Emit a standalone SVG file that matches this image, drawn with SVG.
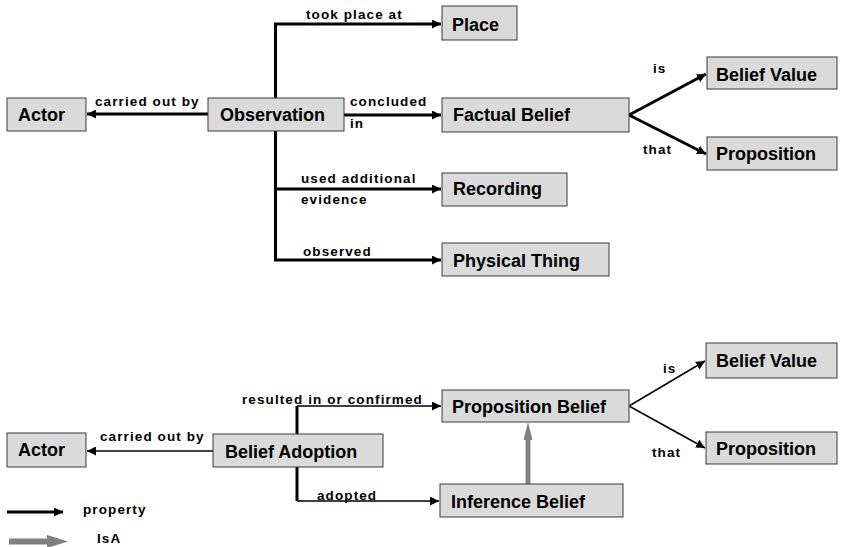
<svg xmlns="http://www.w3.org/2000/svg" width="842" height="547" viewBox="0 0 842 547">
  <style>
    .box { fill: #dadada; stroke: #3a3a3a; stroke-width: 1; }
    .node { font-family: "Liberation Sans", Arial, sans-serif; font-weight: bold; font-size: 18px; fill: #000; }
    .lbl { font-family: "Liberation Sans", Arial, sans-serif; font-weight: bold; font-size: 13.5px; letter-spacing: 1.1px; fill: #000; }
    .thick { fill: none; stroke: #000; stroke-width: 3; }
    .thin { fill: none; stroke: #000; stroke-width: 1.5; }
    .isa { fill: #808080; }
  </style>
  <defs>
    <marker id="arrow" markerUnits="userSpaceOnUse" markerWidth="10" markerHeight="9" refX="9" refY="4.5" orient="auto">
      <path d="M0,0 L9,4.5 L0,9 z" fill="#000"/>
    </marker>
  </defs>

  <!-- connectors -->
  <g id="connectors">
    <!-- upper model: Observation -->
    <path class="thick" d="M208,114 H87" marker-end="url(#arrow)"/>
    <path class="thick" d="M275.5,98 V24 H441" marker-end="url(#arrow)"/>
    <path class="thick" d="M344,115 H441" marker-end="url(#arrow)"/>
    <path class="thick" d="M275.5,131 V260 H441" marker-end="url(#arrow)"/>
    <path class="thick" d="M275.5,189 H441" marker-end="url(#arrow)"/>
    <path class="thick" d="M629,115 L706,74" marker-end="url(#arrow)"/>
    <path class="thick" d="M629,115 L706,154" marker-end="url(#arrow)"/>

    <!-- lower model: Belief Adoption -->
    <path class="thin" d="M213,451 H87" marker-end="url(#arrow)"/>
    <path class="thick" d="M297,434 V406"/>
    <path class="thin" d="M297,406 H441" marker-end="url(#arrow)"/>
    <path class="thick" d="M297,467 V501"/>
    <path class="thin" d="M297,501 H439" marker-end="url(#arrow)"/>
    <path class="thin" d="M629,406 L705,361" marker-end="url(#arrow)"/>
    <path class="thin" d="M629,406 L705,448" marker-end="url(#arrow)"/>
    <!-- IsA: Inference Belief to Proposition Belief -->
    <polygon class="isa" points="525.5,484 530.5,484 530.5,440 532.5,440 528,422 523.5,440 525.5,440"/>

    <!-- legend -->
    <path class="thick" d="M7,512 H63" marker-end="url(#arrow)"/>
    <polygon class="isa" points="9,538.5 47,538.5 47,535 68,541.5 47,548 47,544.5 9,544.5"/>
  </g>

  <!-- connector labels -->
  <g id="labels">
    <text class="lbl" x="306" y="19">took place at</text>
    <text class="lbl" x="95" y="106">carried out by</text>
    <text class="lbl" x="350" y="106">concluded</text>
    <text class="lbl" x="350" y="128">in</text>
    <text class="lbl" x="653" y="73">is</text>
    <text class="lbl" x="643" y="154">that</text>
    <text class="lbl" x="301" y="183">used additional</text>
    <text class="lbl" x="301" y="204">evidence</text>
    <text class="lbl" x="303" y="256">observed</text>

    <text class="lbl" x="242" y="404">resulted in or confirmed</text>
    <text class="lbl" x="100" y="441">carried out by</text>
    <text class="lbl" x="317" y="500">adopted</text>
    <text class="lbl" x="663" y="373">is</text>
    <text class="lbl" x="652" y="457">that</text>

    <text class="lbl" x="83" y="514">property</text>
    <text class="lbl" x="97" y="543">IsA</text>
  </g>

  <!-- upper model nodes -->
  <g id="actor-top">
    <rect class="box" x="7" y="98" width="79" height="33"/>
    <text class="node" x="18" y="121">Actor</text>
  </g>
  <g id="observation">
    <rect class="box" x="208" y="98" width="136" height="33"/>
    <text class="node" x="220" y="121">Observation</text>
  </g>
  <g id="place">
    <rect class="box" x="442" y="6" width="75" height="34"/>
    <text class="node" x="452" y="31">Place</text>
  </g>
  <g id="factual-belief">
    <rect class="box" x="442" y="98" width="187" height="34"/>
    <text class="node" x="453" y="121">Factual Belief</text>
  </g>
  <g id="belief-value-top">
    <rect class="box" x="707" y="57" width="130" height="32"/>
    <text class="node" x="716" y="81">Belief Value</text>
  </g>
  <g id="proposition-top">
    <rect class="box" x="707" y="137" width="130" height="33"/>
    <text class="node" x="716" y="160">Proposition</text>
  </g>
  <g id="recording">
    <rect class="box" x="442" y="173" width="125" height="33"/>
    <text class="node" x="453" y="195">Recording</text>
  </g>
  <g id="physical-thing">
    <rect class="box" x="442" y="243" width="167" height="33"/>
    <text class="node" x="453" y="267">Physical Thing</text>
  </g>

  <!-- lower model nodes -->
  <g id="actor-bottom">
    <rect class="box" x="7" y="433" width="79" height="34"/>
    <text class="node" x="18" y="456">Actor</text>
  </g>
  <g id="belief-adoption">
    <rect class="box" x="213" y="434" width="170" height="33"/>
    <text class="node" x="225" y="458">Belief Adoption</text>
  </g>
  <g id="proposition-belief">
    <rect class="box" x="442" y="390" width="187" height="32"/>
    <text class="node" x="452" y="413">Proposition Belief</text>
  </g>
  <g id="inference-belief">
    <rect class="box" x="440" y="484" width="183" height="33"/>
    <text class="node" x="451" y="508">Inference Belief</text>
  </g>
  <g id="belief-value-bottom">
    <rect class="box" x="706" y="343" width="131" height="35"/>
    <text class="node" x="716" y="367">Belief Value</text>
  </g>
  <g id="proposition-bottom">
    <rect class="box" x="706" y="432" width="131" height="32"/>
    <text class="node" x="716" y="455">Proposition</text>
  </g>
</svg>
